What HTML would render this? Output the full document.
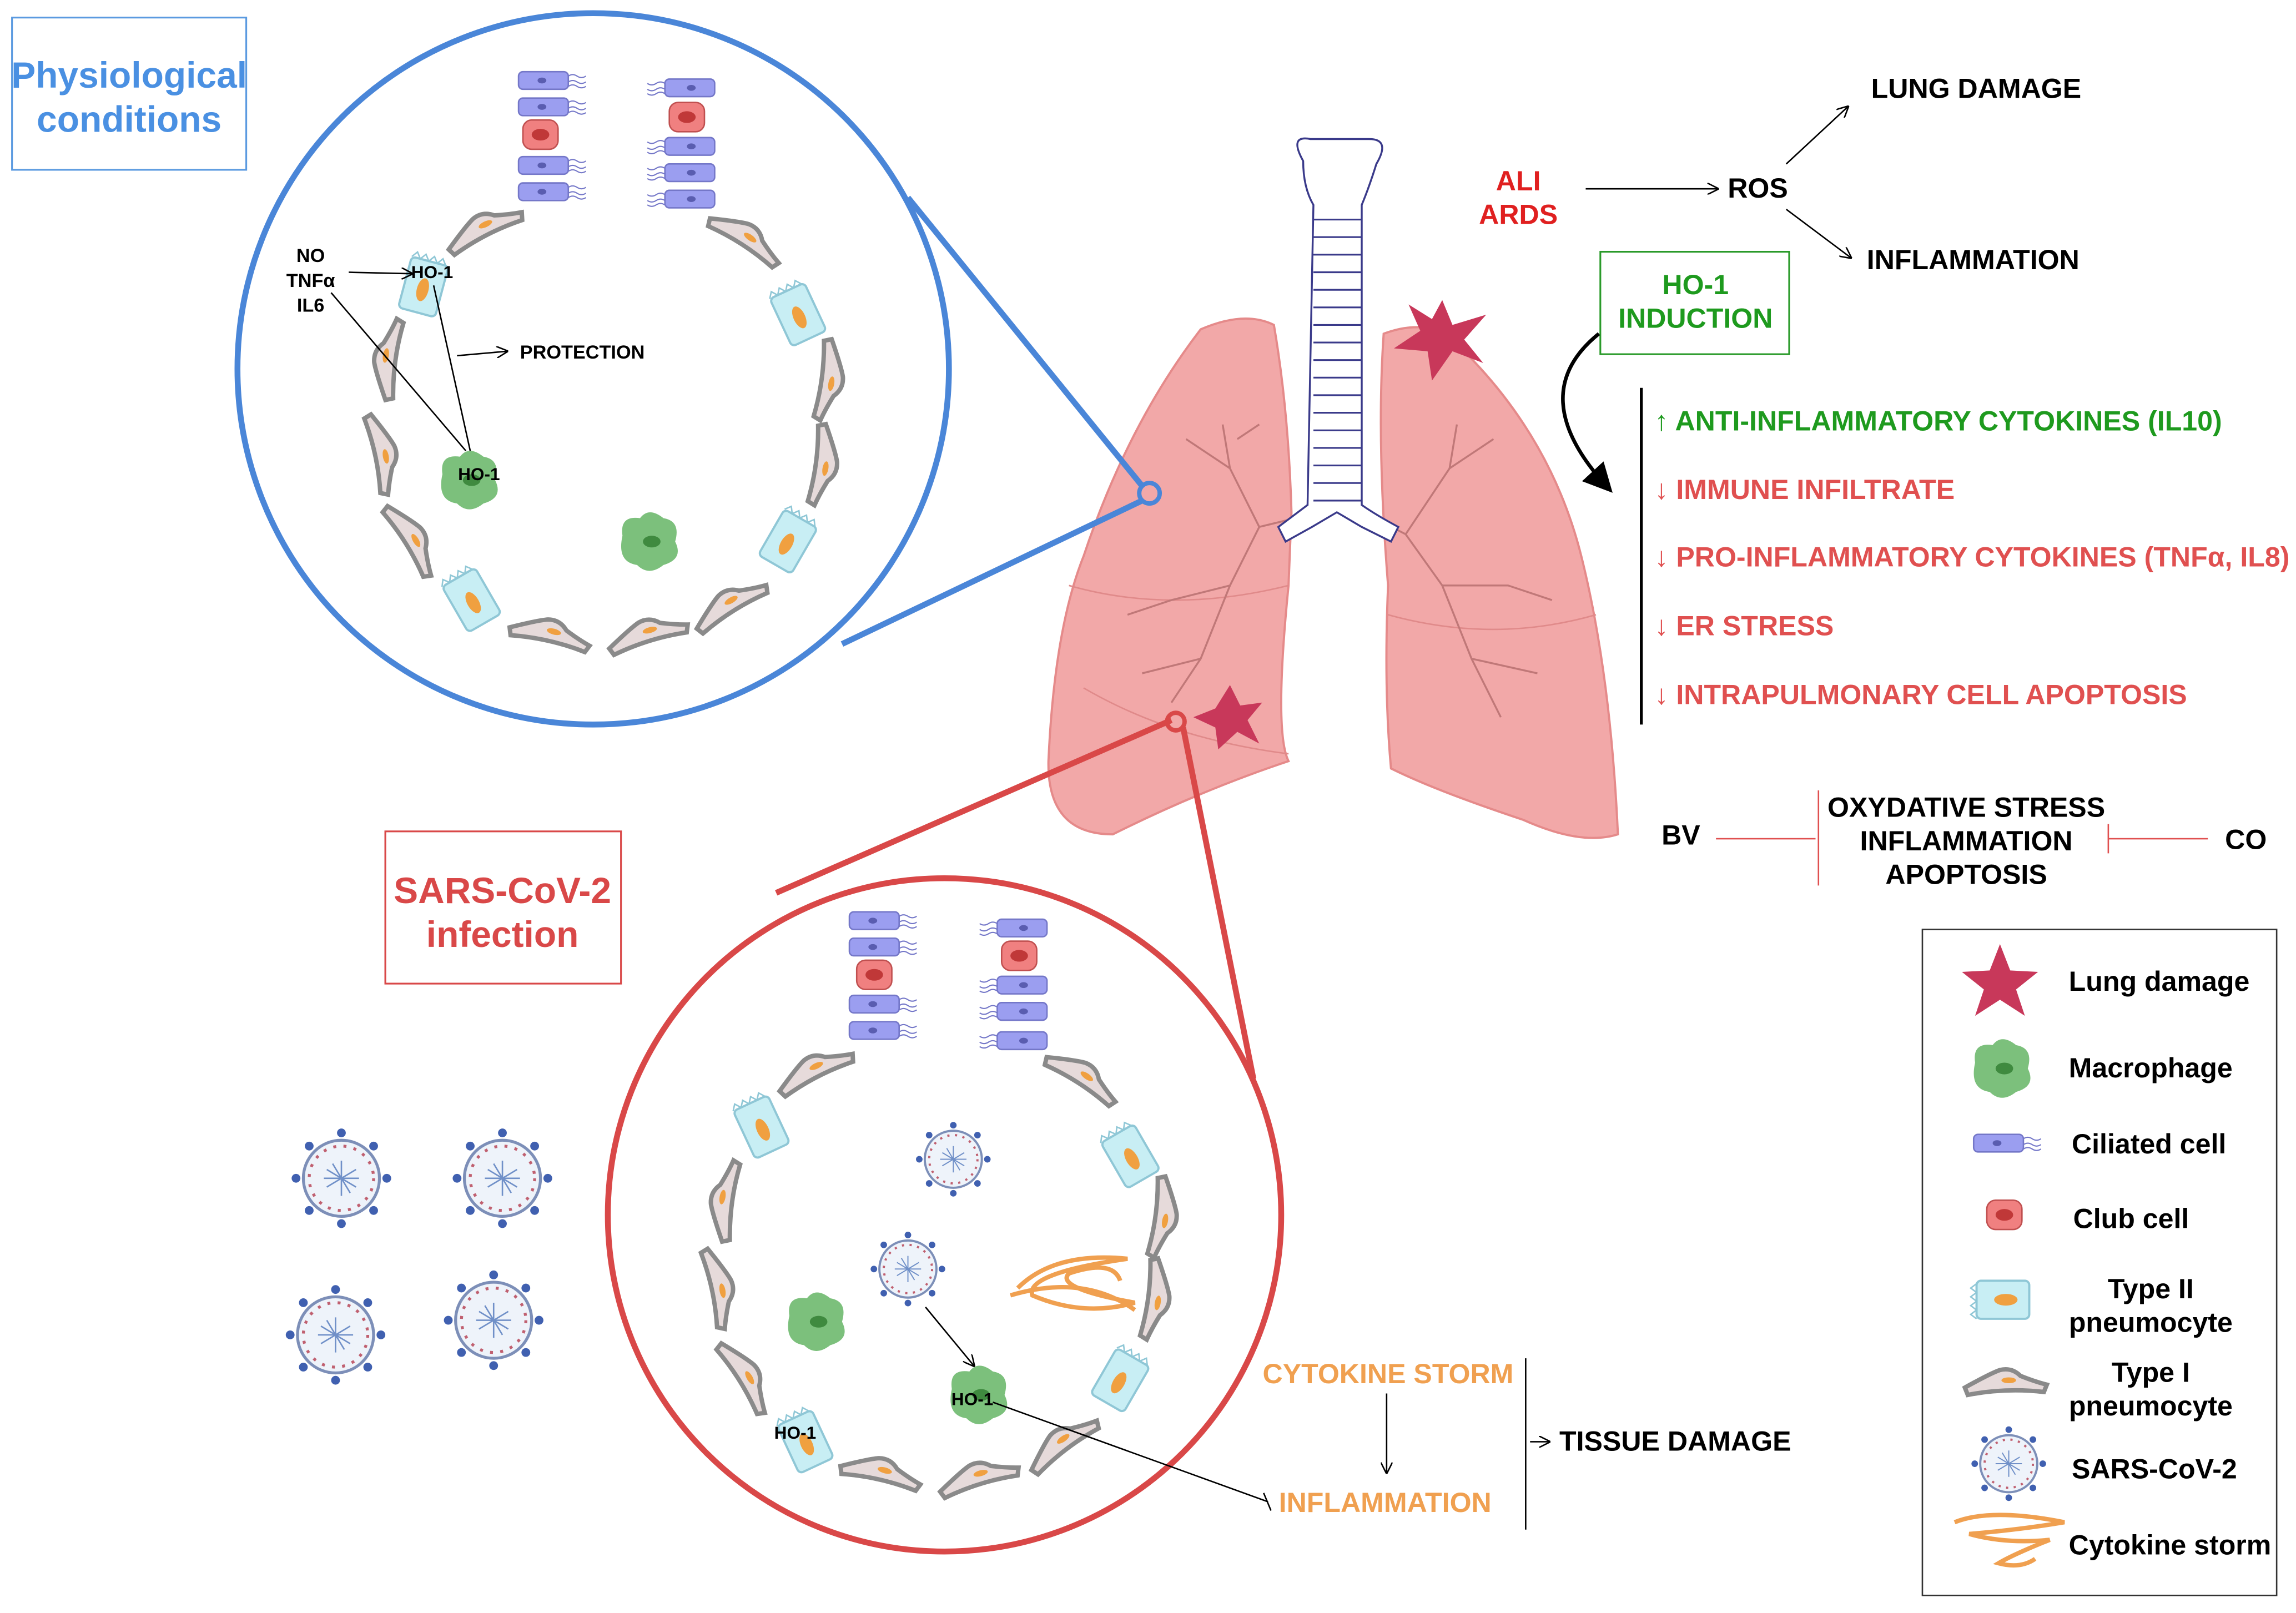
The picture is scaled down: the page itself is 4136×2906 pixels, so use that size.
<!DOCTYPE html>
<html><head><meta charset="utf-8"><style>
html,body{margin:0;padding:0;background:#fff}
svg{display:block}
text{font-family:"Liberation Sans",sans-serif;font-weight:bold}
</style></head><body>
<svg width="4136" height="2906" viewBox="0 0 1568 1102" xmlns="http://www.w3.org/2000/svg">
<defs>
<marker id="ar" markerWidth="8" markerHeight="8" refX="7" refY="4" orient="auto"><path d="M0,0 L8,4 L0,8" fill="none" stroke="#000" stroke-width="1"/></marker>
<marker id="arb" markerWidth="8" markerHeight="8" refX="6" refY="4" orient="auto"><path d="M0,0 L8,4 L0,8 z" fill="#000"/></marker>
<g id="t1"><path d="M-28,4 Q-10,-6 -4,-8 Q4,-10 10,-4 Q20,0 28,2 L26,7 Q0,4 -26,9 z" fill="#e6dada" stroke="#8a8a8a" stroke-width="3"/><ellipse cx="2" cy="-1" rx="5" ry="2" fill="#f0a040"/></g>
<g id="t2"><rect x="-13" y="-18" width="26" height="36" rx="3" fill="#c8eef4" stroke="#8fc7d6" stroke-width="1.5"/><path d="M-13,-18 l3,-4 l3,4 l3,-4 l3,4 l3,-4 l3,4 l3,-4 l3,4" fill="none" stroke="#8fc7d6"/><ellipse cx="0" cy="2" rx="4" ry="8" fill="#f0a040"/></g>
<g id="cil"><rect x="-18" y="-6" width="34" height="12" rx="3" fill="#9b9ef0" stroke="#7477c8"/><ellipse cx="-2" cy="0" rx="3" ry="2" fill="#5a5db0"/><path d="M16,-3 q3,-2 6,0 t6,0 M16,1 q3,-2 6,0 t6,0 M16,4 q3,-2 6,0 t6,0" fill="none" stroke="#7477c8" stroke-width="0.8"/></g>
<g id="club"><rect x="-12" y="-10" width="24" height="20" rx="6" fill="#f08080" stroke="#c05050"/><ellipse cx="0" cy="0" rx="6" ry="4" fill="#c03838"/></g>
<g id="mac"><path d="M-18,-4 Q-20,-18 -6,-16 Q0,-24 10,-16 Q22,-14 18,0 Q24,12 10,16 Q0,24 -8,16 Q-22,14 -18,-4z" fill="#7cc07c"/><ellipse cx="2" cy="0" rx="6" ry="4" fill="#3f8a3f"/></g>
<g id="vir"><circle r="26" fill="#eef3fa" stroke="#7d8fb8" stroke-width="2"/><circle r="22" fill="none" stroke="#c06070" stroke-width="2" stroke-dasharray="2 5"/><g stroke="#7090c8" stroke-width="1"><path d="M-10,-6 L10,6 M-10,6 L10,-6 M0,-12 L0,12 M-12,0 L12,0 M-6,-10 L6,10"/></g><g fill="#4060b0"><circle cx="0" cy="-31" r="3"/><circle cx="0" cy="31" r="3"/><circle cx="31" cy="0" r="3"/><circle cx="-31" cy="0" r="3"/><circle cx="22" cy="22" r="3"/><circle cx="-22" cy="22" r="3"/><circle cx="22" cy="-22" r="3"/><circle cx="-22" cy="-22" r="3"/></g></g>
</defs>

<!-- Lungs -->
<path d="M820,225 Q850,212 870,222 Q880,280 882,350 L880,400 Q870,500 880,520 Q820,540 760,570 Q715,570 716,520 Q720,430 740,380 Q770,290 820,225z" fill="#f2a8a8" stroke="#e58a8a" stroke-width="1.5"/>
<path d="M945,228 Q980,215 1000,240 Q1060,300 1080,380 Q1100,460 1105,570 Q1080,578 1040,560 Q980,540 950,525 Q945,470 948,400 Q940,300 945,228z" fill="#f2a8a8" stroke="#e58a8a" stroke-width="1.5"/>
<path d="M730,400 Q800,420 880,400 M740,470 Q800,505 880,515 M948,420 Q1020,440 1090,420" stroke="#e08a8a" fill="none"/>
<g stroke="#c07878" stroke-width="1.3" fill="none">
<path d="M893,352 L860,360 L840,400 L820,450 L800,480 M840,400 L800,410 L770,420 M860,360 L840,320 L835,290 M840,320 L810,300 M820,450 L780,460 M845,300 L860,290"/>
<path d="M935,352 L960,365 L985,400 L1005,450 L1025,490 M985,400 L1030,400 L1060,410 M960,365 L990,320 L995,290 M990,320 L1020,300 M1005,450 L1050,460"/>
</g>
<path d="M890,110 Q880,92 895,95 L935,95 Q950,95 940,112 Q935,128 930,140 L930,345 Q940,352 955,360 L950,370 L930,360 L913,350 L896,360 L878,370 L873,360 L893,345 L897,140 Q890,128 890,110z" fill="#fff" stroke="#3a3a8a" stroke-width="1.3"/>
<g stroke="#3a3a8a" stroke-width="1.2">
<line x1="897" y1="150" x2="930" y2="150"/><line x1="897" y1="162" x2="930" y2="162"/><line x1="897" y1="174" x2="930" y2="174"/><line x1="897" y1="186" x2="930" y2="186"/><line x1="897" y1="198" x2="930" y2="198"/><line x1="897" y1="210" x2="930" y2="210"/><line x1="897" y1="222" x2="930" y2="222"/><line x1="897" y1="234" x2="930" y2="234"/><line x1="897" y1="246" x2="930" y2="246"/><line x1="897" y1="258" x2="930" y2="258"/><line x1="897" y1="270" x2="930" y2="270"/><line x1="897" y1="282" x2="930" y2="282"/><line x1="897" y1="294" x2="930" y2="294"/><line x1="897" y1="306" x2="930" y2="306"/><line x1="897" y1="318" x2="930" y2="318"/><line x1="897" y1="330" x2="930" y2="330"/><line x1="897" y1="342" x2="930" y2="342"/>
</g>
<polygon points="985,205 992,222 1015,215 1000,232 1013,248 992,240 978,260 975,240 952,238 970,226 962,208 978,218" fill="#c8385a"/>
<polygon points="840,468 847,482 862,480 852,492 860,508 845,500 832,512 830,497 815,490 830,484" fill="#c8385a"/>

<!-- Physiological box -->
<rect x="8" y="12" width="160" height="104" fill="#fff" stroke="#5a9ae0" stroke-width="1.2"/>
<text x="88" y="60" font-size="25" fill="#4a90e2" text-anchor="middle" font-weight="normal">Physiological</text>
<text x="88" y="90" font-size="25" fill="#4a90e2" text-anchor="middle" font-weight="normal">conditions</text>

<!-- blue zoom lines -->
<line x1="620" y1="135" x2="780" y2="332" stroke="#4a86d8" stroke-width="4"/>
<line x1="575" y1="440" x2="780" y2="342" stroke="#4a86d8" stroke-width="4"/>
<circle cx="785" cy="337" r="7" fill="none" stroke="#4a86d8" stroke-width="3"/>
<circle cx="405" cy="252" r="243" fill="#fff" stroke="#4a86d8" stroke-width="4"/>

<g>
<use href="#cil" x="372" y="55"/><use href="#cil" x="372" y="73"/><use href="#club" x="369" y="92"/><use href="#cil" x="372" y="113"/><use href="#cil" x="372" y="131"/>
<g transform="translate(470,60) scale(-1,1)"><use href="#cil"/></g><use href="#club" x="469" y="80"/><g transform="translate(470,100) scale(-1,1)"><use href="#cil"/></g><g transform="translate(470,118) scale(-1,1)"><use href="#cil"/></g><g transform="translate(470,136) scale(-1,1)"><use href="#cil"/></g>
<use href="#t1" transform="translate(330,155) rotate(-25)"/>
<use href="#t1" transform="translate(510,162) rotate(35)"/>
<use href="#t2" transform="translate(545,215) rotate(-25)"/>
<use href="#t1" transform="translate(567,260) rotate(100)"/>
<use href="#t1" transform="translate(563,318) rotate(100)"/>
<use href="#t2" transform="translate(538,370) rotate(30)"/>
<use href="#t1" transform="translate(498,412) rotate(-30)"/>
<use href="#t1" transform="translate(442,432) rotate(-15)"/>
<use href="#t1" transform="translate(376,432) rotate(15)"/>
<use href="#t2" transform="translate(322,410) rotate(-30)"/>
<use href="#t1" transform="translate(282,368) rotate(60)"/>
<use href="#t1" transform="translate(262,310) rotate(80)"/>
<use href="#t1" transform="translate(264,245) rotate(-80)"/>
<use href="#t2" transform="translate(289,196) rotate(15)"/>
<use href="#mac" x="320" y="328"/>
<use href="#mac" x="443" y="370"/>
</g>
<text x="295" y="190" font-size="12" text-anchor="middle">HO-1</text>
<text x="327" y="328" font-size="12" text-anchor="middle">HO-1</text>
<text x="212" y="179" font-size="13" text-anchor="middle">NO</text>
<text x="212" y="196" font-size="13" text-anchor="middle">TNFα</text>
<text x="212" y="213" font-size="13" text-anchor="middle">IL6</text>
<line x1="238" y1="186" x2="281" y2="187" stroke="#000" marker-end="url(#ar)"/>
<line x1="226" y1="200" x2="318" y2="308" stroke="#000"/>
<line x1="296" y1="195" x2="321" y2="308" stroke="#000"/>
<line x1="312" y1="243" x2="346" y2="240" stroke="#000" marker-end="url(#ar)"/>
<text x="355" y="245" font-size="13">PROTECTION</text>

<!-- red zoom -->
<line x1="530" y1="610" x2="800" y2="492" stroke="#d94848" stroke-width="4"/>
<line x1="856" y1="737" x2="808" y2="497" stroke="#d94848" stroke-width="4"/>
<circle cx="803" cy="493" r="6" fill="none" stroke="#d94848" stroke-width="3"/>
<circle cx="645" cy="830" r="230" fill="#fff" stroke="#d94848" stroke-width="4"/>
<rect x="263" y="568" width="161" height="104" fill="#fff" stroke="#d94848" stroke-width="1.2"/>
<text x="343" y="617" font-size="25" fill="#d94848" text-anchor="middle" font-weight="normal">SARS-CoV-2</text>
<text x="343" y="647" font-size="25" fill="#d94848" text-anchor="middle" font-weight="normal">infection</text>

<g>
<use href="#cil" x="598" y="629"/><use href="#cil" x="598" y="647"/><use href="#club" x="597" y="666"/><use href="#cil" x="598" y="686"/><use href="#cil" x="598" y="704"/>
<g transform="translate(697,634) scale(-1,1)"><use href="#cil"/></g><use href="#club" x="696" y="653"/><g transform="translate(697,673) scale(-1,1)"><use href="#cil"/></g><g transform="translate(697,691) scale(-1,1)"><use href="#cil"/></g><g transform="translate(697,711) scale(-1,1)"><use href="#cil"/></g>
<use href="#t1" transform="translate(556,730) rotate(-25)"/>
<use href="#t1" transform="translate(740,735) rotate(35)"/>
<use href="#t2" transform="translate(520,770) rotate(-25)"/>
<use href="#t2" transform="translate(772,790) rotate(-30)"/>
<use href="#t1" transform="translate(494,820) rotate(-80)"/>
<use href="#t1" transform="translate(795,832) rotate(100)"/>
<use href="#t1" transform="translate(492,880) rotate(80)"/>
<use href="#t1" transform="translate(790,888) rotate(100)"/>
<use href="#t1" transform="translate(510,940) rotate(60)"/>
<use href="#t2" transform="translate(765,943) rotate(30)"/>
<use href="#t2" transform="translate(550,985) rotate(-25)"/>
<use href="#t1" transform="translate(725,985) rotate(-35)"/>
<use href="#t1" transform="translate(602,1005) rotate(15)"/>
<use href="#t1" transform="translate(668,1008) rotate(-15)"/>
<use href="#mac" x="557" y="903"/>
<use href="#mac" x="668" y="953"/>
<use href="#vir" transform="translate(651,792) scale(0.75)"/>
<use href="#vir" transform="translate(620,867) scale(0.75)"/>
</g>
<path d="M695,880 Q720,855 770,860 Q700,870 705,885 Q740,900 775,890 Q720,880 730,870 Q760,860 765,875" fill="none" stroke="#f0a050" stroke-width="3"/>
<path d="M690,885 Q740,870 775,895" fill="none" stroke="#f0a050" stroke-width="3"/>
<text x="543" y="983" font-size="12" text-anchor="middle">HO-1</text>
<text x="664" y="960" font-size="12" text-anchor="middle">HO-1</text>
<line x1="632" y1="893" x2="665" y2="933" stroke="#000" marker-end="url(#ar)"/>
<line x1="678" y1="958" x2="866" y2="1026" stroke="#000"/>
<line x1="863" y1="1020" x2="868" y2="1032" stroke="#000"/>

<use href="#vir" x="233" y="805"/><use href="#vir" x="343" y="805"/>
<use href="#vir" x="229" y="912"/><use href="#vir" x="337" y="902"/>

<text x="948" y="945" font-size="19" fill="#f0a050" text-anchor="middle">CYTOKINE STORM</text>
<line x1="947" y1="952" x2="947" y2="1006" stroke="#000" marker-end="url(#ar)"/>
<text x="946" y="1033" font-size="19" fill="#f0a050" text-anchor="middle">INFLAMMATION</text>
<line x1="1042" y1="928" x2="1042" y2="1045" stroke="#000"/>
<line x1="1045" y1="985" x2="1058" y2="985" stroke="#000" marker-end="url(#ar)"/>
<text x="1065" y="991" font-size="19">TISSUE DAMAGE</text>

<text x="1037" y="130" font-size="19" fill="#e02020" text-anchor="middle">ALI</text>
<text x="1037" y="153" font-size="19" fill="#e02020" text-anchor="middle">ARDS</text>
<line x1="1083" y1="129" x2="1173" y2="129" stroke="#000" marker-end="url(#ar)"/>
<text x="1180" y="135" font-size="19">ROS</text>
<line x1="1220" y1="112" x2="1262" y2="73" stroke="#000" marker-end="url(#ar)"/>
<line x1="1220" y1="143" x2="1264" y2="176" stroke="#000" marker-end="url(#ar)"/>
<text x="1278" y="67" font-size="19">LUNG DAMAGE</text>
<text x="1275" y="184" font-size="19">INFLAMMATION</text>
<rect x="1093" y="172" width="129" height="70" fill="#fff" stroke="#2a9a2a" stroke-width="1.2"/>
<text x="1158" y="201" font-size="19" fill="#1e9a1e" text-anchor="middle" font-weight="normal">HO-1</text>
<text x="1158" y="224" font-size="19" fill="#1e9a1e" text-anchor="middle" font-weight="normal">INDUCTION</text>
<path d="M1092,228 Q1040,270 1098,333" fill="none" stroke="#000" stroke-width="2.5" marker-end="url(#arb)"/>
<line x1="1121" y1="265" x2="1121" y2="495" stroke="#000" stroke-width="2"/>
<g font-size="19" font-weight="normal">
<text x="1130" y="294" fill="#1e9a1e">↑ ANTI-INFLAMMATORY CYTOKINES (IL10)</text>
<text x="1130" y="341" fill="#e05050">↓ IMMUNE INFILTRATE</text>
<text x="1130" y="387" fill="#e05050">↓ PRO-INFLAMMATORY CYTOKINES (TNFα, IL8)</text>
<text x="1130" y="434" fill="#e05050">↓ ER STRESS</text>
<text x="1130" y="481" fill="#e05050">↓ INTRAPULMONARY CELL APOPTOSIS</text>
</g>
<text x="1148" y="577" font-size="19" text-anchor="middle">BV</text>
<line x1="1172" y1="573" x2="1240" y2="573" stroke="#e05050"/>
<line x1="1242" y1="540" x2="1242" y2="605" stroke="#e05050"/>
<text x="1343" y="558" font-size="19" text-anchor="middle">OXYDATIVE STRESS</text>
<text x="1343" y="581" font-size="19" text-anchor="middle">INFLAMMATION</text>
<text x="1343" y="604" font-size="19" text-anchor="middle">APOPTOSIS</text>
<line x1="1440" y1="563" x2="1440" y2="583" stroke="#e05050"/>
<line x1="1440" y1="573" x2="1508" y2="573" stroke="#e05050"/>
<text x="1534" y="580" font-size="19" text-anchor="middle">CO</text>

<rect x="1313" y="635" width="242" height="455" fill="#fff" stroke="#333" stroke-width="1"/>
<polygon points="1366,645 1373,663 1392,664 1377,676 1383,694 1366,683 1349,694 1355,676 1340,664 1359,663" fill="#c8385a"/>
<use href="#mac" x="1367" y="730"/>
<use href="#cil" x="1366" y="781"/>
<use href="#club" x="1369" y="830"/>
<use href="#t2" transform="translate(1368,888) rotate(-90)"/>
<use href="#t1" transform="translate(1370,944)"/>
<use href="#vir" transform="translate(1372,1000) scale(0.75)"/>
<path d="M1335,1040 Q1360,1030 1410,1040 Q1380,1045 1345,1048 Q1370,1055 1400,1052 Q1375,1062 1365,1068 Q1380,1072 1390,1065" fill="none" stroke="#f0a050" stroke-width="3"/>
<g font-size="19">
<text x="1413" y="677">Lung damage</text>
<text x="1413" y="736">Macrophage</text>
<text x="1415" y="788">Ciliated cell</text>
<text x="1416" y="839">Club cell</text>
<text x="1469" y="887" text-anchor="middle">Type II</text>
<text x="1469" y="910" text-anchor="middle">pneumocyte</text>
<text x="1469" y="944" text-anchor="middle">Type I</text>
<text x="1469" y="967" text-anchor="middle">pneumocyte</text>
<text x="1415" y="1010">SARS-CoV-2</text>
<text x="1413" y="1062">Cytokine storm</text>
</g>
</svg>
</body></html>
